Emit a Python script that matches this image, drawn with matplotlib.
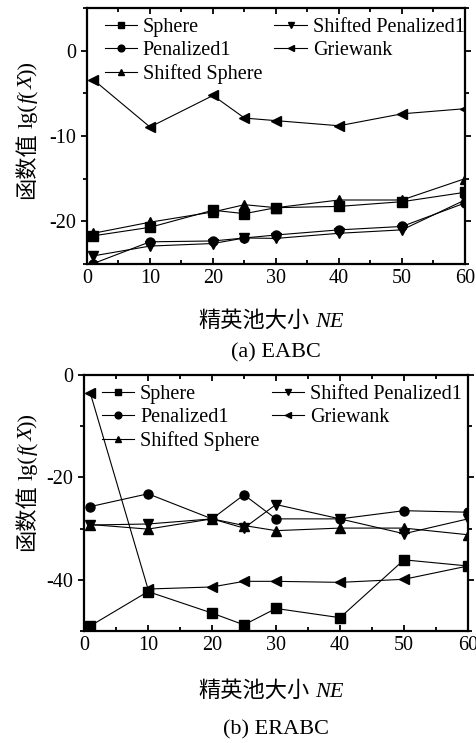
import matplotlib
matplotlib.use("Agg")
import matplotlib.pyplot as plt
from matplotlib.ticker import MultipleLocator

FAMS = ['Liberation Serif', 'Noto Sans CJK SC']
plt.rcParams['font.family'] = FAMS
plt.rcParams['axes.unicode_minus'] = False

W, H = 477, 743

# elite pool size
ne = [1, 10, 20, 25, 30, 40, 50, 60]

# (a) EABC
a_sphere = [-21.7, -20.7, -18.7, -19.1, -18.4, -18.25, -17.7, -16.6]
a_pen1 = [-24.95, -22.4, -22.3, -21.95, -21.6, -21.0, -20.6, -17.85]
a_shift_sphere = [-21.4, -20.1, -18.9, -18.05, -18.4, -17.5, -17.5, -15.0]
a_shift_pen1 = [-24.05, -22.9, -22.6, -21.95, -22.0, -21.4, -21.0, -17.5]
a_griewank = [-3.4, -8.95, -5.25, -7.9, -8.2, -8.8, -7.4, -6.8]

# (b) ERABC
b_sphere = [-49.0, -42.3, -46.5, -48.8, -45.6, -47.4, -36.1, -37.3]
b_pen1 = [-25.7, -23.2, -28.1, -23.4, -28.1, -28.1, -26.5, -26.8]
b_shift_sphere = [-29.2, -30.1, -28.1, -29.4, -30.4, -29.9, -29.9, -31.2]
b_shift_pen1 = [-29.3, -29.1, -28.1, -29.9, -25.3, -28.1, -31.0, -28.1]
b_griewank = [-3.6, -41.8, -41.4, -40.3, -40.3, -40.5, -39.9, -37.3]

names = ['Sphere', 'Penalized1', 'Shifted Sphere', 'Shifted Penalized1', 'Griewank']
markers = ['s', 'o', '^', 'v', '<']

ylabel_parts = [('函数值', 'normal'), (' ', 'normal'), ('lg(', 'normal'),
                ('f', 'italic'), ('(', 'normal'), ('X', 'italic'), ('))', 'normal')]
xlabel_parts = [('精英池大小', 'normal'), (' ', 'normal'), ('NE', 'italic')]


def mixed_text(fig, cx, cy, parts, size, vertical=False):
    """Write text made of pieces in different styles, centred at (cx, cy) px from top-left."""
    r = fig.canvas.get_renderer()
    widths = []
    for s, st in parts:
        if s == ' ':
            widths.append(size * 0.3)
            continue
        t = fig.text(0, 0, s, fontsize=size, style=st)
        widths.append(t.get_window_extent(r).width)
        t.remove()
    total = sum(widths)
    pos = -total / 2
    for (s, st), w in zip(parts, widths):
        if s != ' ':
            if vertical:
                x, y = cx, H - cy + pos
            else:
                x, y = cx + pos, H - cy
            fig.text(x / W, y / H, s, fontsize=size, style=st,
                     rotation=90 if vertical else 0, rotation_mode='anchor',
                     ha='left', va='baseline')
        pos += w


def draw_panel(ax, series, ylim, ymajor, yminor):
    for vals, name, mk in zip(series, names, markers):
        ax.plot(ne, vals, color='black', lw=0.8, marker=mk, ms=6.5, label=name)
    ax.set_xlim(0, 60)
    ax.set_ylim(*ylim)
    ax.xaxis.set_major_locator(MultipleLocator(10))
    ax.xaxis.set_minor_locator(MultipleLocator(5))
    ax.yaxis.set_major_locator(MultipleLocator(ymajor))
    ax.yaxis.set_minor_locator(MultipleLocator(yminor))
    ax.tick_params(which='both', direction='in', top=True, right=True,
                   width=1.3, labelsize=14.5)
    ax.tick_params(axis='y', which='both', direction='out', left=True)
    ax.tick_params(which='major', length=4)
    ax.tick_params(which='minor', length=3)
    for sp in ax.spines.values():
        sp.set_linewidth(1.6)
    ax.legend(ncol=2, loc='upper left', frameon=False, fontsize=14.5,
              handlelength=1.6, handletextpad=0.3, columnspacing=0.6,
              labelspacing=0.2, borderaxespad=0.1, markerscale=0.75,
              bbox_to_anchor=(0.02, 1.0))


fig = plt.figure(figsize=(W / 100, H / 100), dpi=100)
ax1 = fig.add_axes([87 / W, 1 - 264 / H, 378 / W, 256 / H])
ax2 = fig.add_axes([84 / W, 1 - 631 / H, 384 / W, 256 / H])

draw_panel(ax1, [a_sphere, a_pen1, a_shift_sphere, a_shift_pen1, a_griewank],
           (-25, 5), 10, 5)
draw_panel(ax2, [b_sphere, b_pen1, b_shift_sphere, b_shift_pen1, b_griewank],
           (-50, 0), 20, 10)

# axis labels
mixed_text(fig, 33, 130, ylabel_parts, 16, vertical=True)
mixed_text(fig, 33, 482, ylabel_parts, 16, vertical=True)
mixed_text(fig, 271, 327, xlabel_parts, 16)
mixed_text(fig, 271, 697, xlabel_parts, 16)

fig.text(276 / W, 1 - 353 / H, '(a) EABC', ha='center', va='center', fontsize=16)
fig.text(276 / W, 1 - 730 / H, '(b) ERABC', ha='center', va='center', fontsize=16)

fig.savefig('out.png', dpi=100)
